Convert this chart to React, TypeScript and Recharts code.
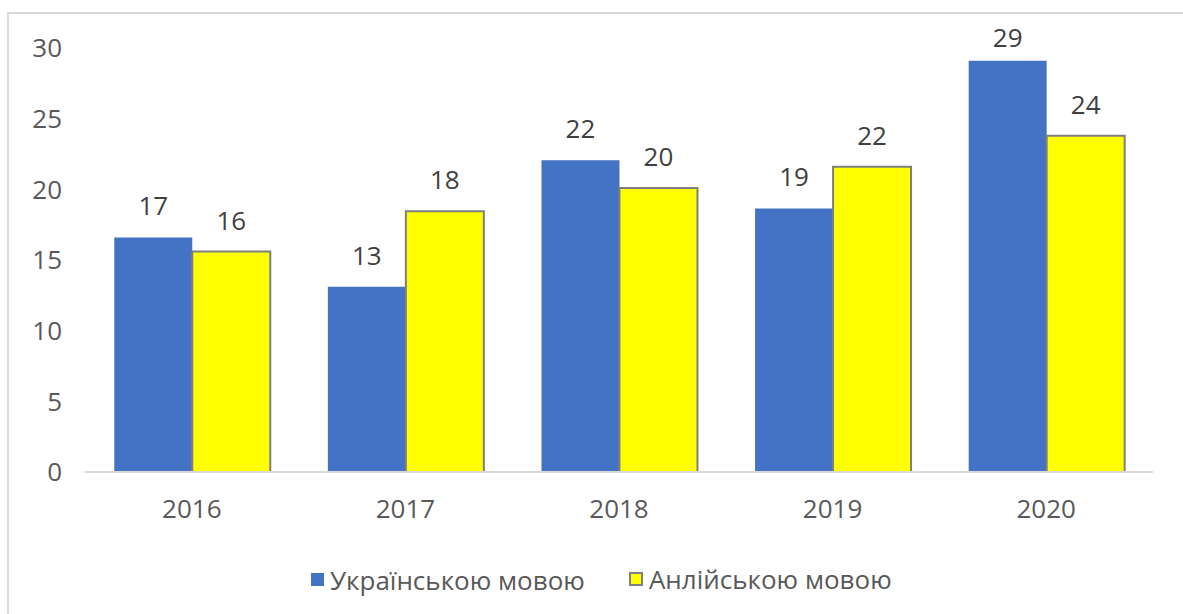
import React from 'react';
import { BarChart, Bar, XAxis, YAxis, LabelList } from 'recharts';

// Values (labels show rounded numbers)
const years = ['2016', '2017', '2018', '2019', '2020'];
const ukrainian = [16.6, 13.1, 22.05, 18.65, 29.1];
const english = [15.6, 18.45, 20.1, 21.6, 23.8];
const yTicks = [0, 5, 10, 15, 20, 25, 30];

const SERIES_UA = 'Українською мовою';
const SERIES_EN = 'Анлійською мовою';

const FONT = '"Open Sans", "Noto Sans", sans-serif';
const TEXT = '#595959';
const FS = 26;

const data = years.map((y, i) => ({ year: y, ua: ukrainian[i], en: english[i] }));

// value label above the bar; kept inside the plot top like Excel does
function ValueLabel(props: any) {
  const { x, y, width, value } = props;
  if (value == null) return null;
  const base = Math.max(y - 22, 47);
  return (
    <text
      x={x + width / 2}
      y={base}
      textAnchor="middle"
      fontSize={FS}
      fill="#404040"
      fontFamily={FONT}
    >
      {Math.round(Number(value))}
    </text>
  );
}

function LegendItem({ color, stroke, label, gap }: { color: string; stroke?: string; label: string; gap: number }) {
  return (
    <span style={{ display: 'inline-flex', alignItems: 'center', marginRight: gap }}>
      <span
        style={{
          display: 'inline-block',
          width: stroke ? 10 : 13,
          height: stroke ? 10 : 13,
          background: color,
          border: stroke ? `2px solid ${stroke}` : 'none',
          marginRight: 6,
        }}
      />
      {label}
    </span>
  );
}

export default function App() {
  return (
    <div style={{ position: 'absolute', left: 0, top: 0, width: 1183, height: 614, overflow: 'hidden', background: '#fff' }}>
      {/* chart frame, cut off on the right and bottom like the reference */}
      <div
        style={{
          position: 'absolute',
          left: 7,
          top: 12,
          width: 1300,
          height: 700,
          border: '2px solid #d9d9d9',
        }}
      />
      <div style={{ position: 'absolute', left: 0, top: 0 }}>
        <BarChart
          width={1183}
          height={614}
          data={data}
          margin={{ top: 48, right: 30, left: 0, bottom: 102 }}
          barCategoryGap="13.7%"
          barGap={0}
        >
          <XAxis
            dataKey="year"
            axisLine={{ stroke: '#d9d9d9', strokeWidth: 2 }}
            tickLine={false}
            tickMargin={22}
            height={40}
            tick={{ fontSize: FS, fill: TEXT, fontFamily: FONT }}
          />
          <YAxis
            domain={[0, 30]}
            ticks={yTicks}
            axisLine={false}
            tickLine={false}
            tickMargin={17}
            width={85}
            tick={{ fontSize: FS, fill: TEXT, fontFamily: FONT }}
          />
          <Bar dataKey="ua" name={SERIES_UA} fill="#4472C4" isAnimationActive={false}>
            <LabelList dataKey="ua" content={<ValueLabel />} />
          </Bar>
          <Bar dataKey="en" name={SERIES_EN} fill="#FFFF00" stroke="#7f7f7f" strokeWidth={2} isAnimationActive={false}>
            <LabelList dataKey="en" content={<ValueLabel />} />
          </Bar>
        </BarChart>
      </div>
      <div
        style={{
          position: 'absolute',
          left: 311,
          top: 560,
          fontFamily: FONT,
          fontSize: FS,
          color: TEXT,
          whiteSpace: 'nowrap',
          lineHeight: '32px',
        }}
      >
        <LegendItem color="#4472C4" label={SERIES_UA} gap={44} />
        <LegendItem color="#FFFF00" stroke="#7f7f7f" label={SERIES_EN} gap={0} />
      </div>
    </div>
  );
}
